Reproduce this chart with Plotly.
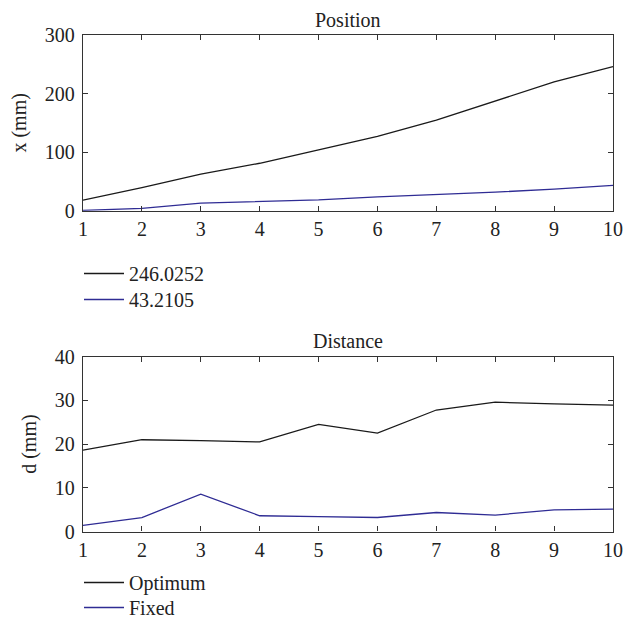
import plotly.graph_objects as go

iterations = [1, 2, 3, 4, 5, 6, 7, 8, 9, 10]
pos_optimum = [18, 39.5, 62.5, 81, 104, 127, 154.5, 187, 220, 246.0252]
pos_fixed = [0.5, 4, 13, 15.5, 18.4, 23.5, 27.5, 31.6, 37, 43.2105]
dist_optimum = [18.6, 21.0, 20.8, 20.5, 24.5, 22.5, 27.8, 29.6, 29.2, 28.9]
dist_fixed = [1.4, 3.2, 8.55, 3.6, 3.4, 3.2, 4.35, 3.75, 4.96, 5.1]

pos_names = ["246.0252", "43.2105"]
dist_names = ["Optimum", "Fixed"]
pos_title = "Position"
dist_title = "Distance"

BLACK = "#1a1a1a"
BLUE = "#2f2c94"
FONT = "Liberation Serif"
TS = 20

fig = go.Figure()
fig.add_trace(go.Scatter(x=iterations, y=pos_optimum, mode="lines", name=pos_names[0], showlegend=True,
                         line=dict(color=BLACK, width=1.3), xaxis="x", yaxis="y", legend="legend"))
fig.add_trace(go.Scatter(x=iterations, y=pos_fixed, mode="lines", name=pos_names[1], showlegend=True,
                         line=dict(color=BLUE, width=1.3), xaxis="x", yaxis="y", legend="legend2"))
fig.add_trace(go.Scatter(x=iterations, y=dist_optimum, mode="lines", name=dist_names[0], showlegend=True,
                         line=dict(color=BLACK, width=1.3), xaxis="x2", yaxis="y2", legend="legend3"))
fig.add_trace(go.Scatter(x=iterations, y=dist_fixed, mode="lines", name=dist_names[1], showlegend=True,
                         line=dict(color=BLUE, width=1.3), xaxis="x2", yaxis="y2", legend="legend4"))

W, H = 639, 621
xdom = [83 / W, 613 / W]
common_x = dict(range=[1, 10], tickvals=iterations, ticks="inside", ticklen=5, tickcolor="#333",
                showline=True, linecolor="#333", linewidth=1.3, mirror="ticks", showgrid=False,
                zeroline=False, tickfont=dict(family=FONT, size=TS, color="#222"), domain=xdom,
                automargin=False)
common_y = dict(ticks="inside", ticklen=5, tickcolor="#333", showline=True, linecolor="#333",
                linewidth=1.3, mirror="ticks", showgrid=False, zeroline=False,
                tickfont=dict(family=FONT, size=TS, color="#222"), automargin=False,
                ticklabelstandoff=3)


def leg(top_px):
    return dict(x=79 / W, y=1 - top_px / H, xanchor="left", yanchor="top", itemwidth=40,
                font=dict(family=FONT, size=TS), bgcolor="rgba(0,0,0,0)", visible=True)


fig.update_layout(
    width=W, height=H,
    showlegend=True,
    margin=dict(l=0, r=0, t=0, b=0, autoexpand=False),
    paper_bgcolor="white", plot_bgcolor="white",
    font=dict(family=FONT, size=TS, color="#222"),
    xaxis=dict(**common_x, anchor="y"),
    yaxis=dict(**common_y, range=[0, 300], tickvals=[0, 100, 200, 300],
               domain=[1 - 210.7 / H, 1 - 35 / H], anchor="x",
               title=dict(text="x (mm)", font=dict(family=FONT, size=TS), standoff=12)),
    xaxis2=dict(**common_x, anchor="y2"),
    yaxis2=dict(**common_y, range=[0, 40], tickvals=[0, 10, 20, 30, 40],
                domain=[1 - 531.5 / H, 1 - 356.7 / H], anchor="x2",
                title=dict(text="d (mm)", font=dict(family=FONT, size=TS), standoff=12)),
    legend=leg(254),
    legend2=leg(280),
    legend3=leg(563),
    legend4=leg(588),
    annotations=[
        dict(text=pos_title, x=348 / W, y=1 - 20 / H, xref="paper", yref="paper",
             showarrow=False, font=dict(family=FONT, size=TS), xanchor="center", yanchor="middle"),
        dict(text=dist_title, x=348 / W, y=1 - 341 / H, xref="paper", yref="paper",
             showarrow=False, font=dict(family=FONT, size=TS), xanchor="center", yanchor="middle"),
    ],
)

fig.write_html("out.html", config={"displayModeBar": False},
               post_script="document.body.style.margin='0';")
